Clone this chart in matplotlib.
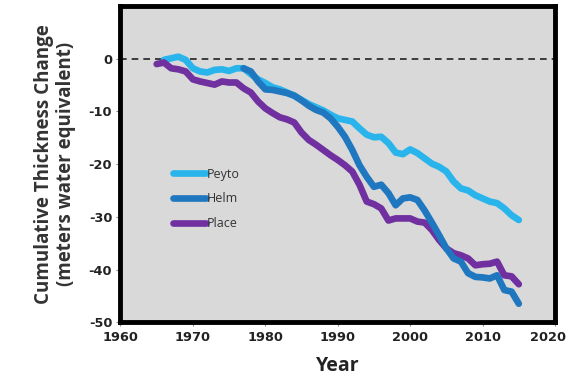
import numpy as np
import matplotlib.pyplot as plt
from matplotlib.transforms import ScaledTranslation

plt.rcParams['axes.unicode_minus'] = False

# values
peyto_years = list(range(1966, 2016))
peyto = [-0.2, 0.1, 0.4, -0.2, -1.8, -2.4, -2.6, -2.1, -2.0, -2.3,
         -1.8, -1.8, -2.9, -3.9, -4.6, -5.4, -5.8, -6.4, -7.0, -7.8,
         -8.6, -9.2, -9.8, -10.6, -11.3, -11.6, -11.9, -13.2, -14.4, -14.9,
         -14.8, -16.0, -17.8, -18.1, -17.2, -17.9, -18.9, -19.9, -20.5, -21.4,
         -23.3, -24.6, -25.0, -25.9, -26.5, -27.1, -27.4, -28.4, -29.7, -30.6]

helm_years = list(range(1977, 2016))
helm = [-1.8, -2.4, -4.3, -5.8, -5.9, -6.2, -6.5, -7.0, -7.9, -8.9,
        -9.7, -10.2, -11.3, -12.9, -14.8, -17.3, -20.2, -22.4, -24.3, -23.9,
        -25.5, -27.8, -26.5, -26.3, -26.8, -28.8, -31.1, -33.5, -36.0, -37.9,
        -38.5, -40.7, -41.4, -41.5, -41.7, -41.1, -43.9, -44.2, -46.5]

place_years = list(range(1965, 2016))
place = [-1.0, -0.7, -1.8, -2.0, -2.4, -3.9, -4.3, -4.6, -4.9, -4.3,
         -4.5, -4.5, -5.6, -6.4, -8.1, -9.4, -10.3, -11.1, -11.5, -12.1,
         -14.0, -15.4, -16.3, -17.3, -18.3, -19.2, -20.2, -21.4, -23.9, -27.1,
         -27.6, -28.4, -30.7, -30.3, -30.3, -30.3, -30.9, -31.1, -32.5, -34.4,
         -36.0, -36.9, -37.3, -37.9, -39.2, -39.0, -38.9, -38.5, -41.1, -41.3,
         -42.8]

x_ticks = [1960, 1970, 1980, 1990, 2000, 2010, 2020]
y_ticks = [0, -10, -20, -30, -40, -50]

fig = plt.figure(figsize=(5.71, 3.84), dpi=100)
ax = fig.add_axes([0.211, 0.161, 0.761, 0.823])
ax.set_facecolor('#d9d9d9')

ax.axhline(0, color='#222222', linestyle=(0, (4, 3)), linewidth=1.2, zorder=1)
ax.plot(peyto_years, peyto, color='#29b5ec', linewidth=4.8, label='Peyto',
        solid_capstyle='round', solid_joinstyle='round', zorder=2)
ax.plot(helm_years, helm, color='#1f77c0', linewidth=4.8, label='Helm',
        solid_capstyle='round', solid_joinstyle='round', zorder=3)
ax.plot(place_years, place, color='#7030a0', linewidth=4.8, label='Place',
        solid_capstyle='round', solid_joinstyle='round', zorder=2.5)

ax.set_xlim(1960, 2020)
ax.set_ylim(-50, 10)
ax.set_xticks(x_ticks)
ax.set_yticks(y_ticks)
ax.tick_params(axis='both', direction='out', length=3, width=0.8, color='#888888',
               labelsize=9.3, pad=3)
for lbl in ax.get_xticklabels() + ax.get_yticklabels():
    lbl.set_fontweight('bold')
    lbl.set_color('#222222')

# nudge the last year label left so it stays inside the picture
last = ax.xaxis.get_major_ticks()[-1].label1
last.set_transform(last.get_transform() + ScaledTranslation(-5 / 72, 0, fig.dpi_scale_trans))

for s in ax.spines.values():
    s.set_linewidth(3.5)
    s.set_color('black')

ax.set_xlabel('Year', fontsize=14, fontweight='bold', color='#222222', labelpad=9,
              family='Open Sans')
ax.set_ylabel('Cumulative Thickness Change\n(meters water equivalent)',
              fontsize=13.5, fontweight='bold', color='#333333', labelpad=9,
              family='Open Sans', linespacing=1.15)

leg = ax.legend(loc='upper left', bbox_to_anchor=(0.095, 0.525), frameon=False,
                prop={'family': 'Open Sans', 'size': 9}, handlelength=2.6,
                handletextpad=0.1, labelspacing=0.95)
for t in leg.get_texts():
    t.set_color('#333333')

fig.savefig('out.png', dpi=100)
